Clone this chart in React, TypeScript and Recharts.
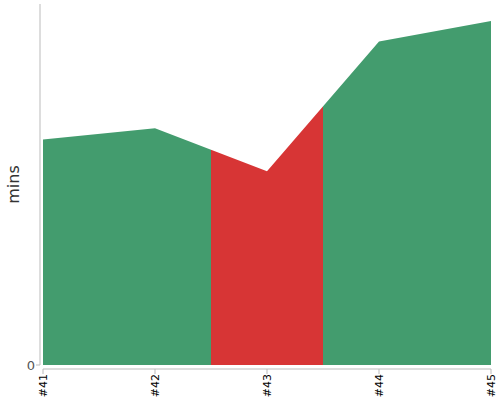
import { AreaChart, Area, XAxis, YAxis } from "recharts";

const builds = ["#41", "#42", "#43", "#44", "#45"];
const durations = [62.5, 65.6, 53.7, 89.6, 95.3];
const yTicks = [0];

const data = builds.map((name, i) => ({ name, mins: durations[i] }));

const GREEN = "#439c6e";
const RED = "#d73535";

const BuildTick = ({ x, y, payload }: any) => (
    <text
        x={x}
        y={y + 2}
        transform={`rotate(-90, ${x}, ${y + 2})`}
        textAnchor="end"
        dominantBaseline="central"
        fontSize={11}
        fill="#000"
        fontFamily="DejaVu Sans, sans-serif"
    >
        {payload.value}
    </text>
);

export default function App() {
    return (
        <div style={{ position: "absolute", left: 0, top: 0, width: 500, height: 400, background: "#fff" }}>
            <AreaChart width={500} height={400} data={data} margin={{ top: 4, right: 9, left: 0, bottom: 0 }}>
                <defs>
                    <linearGradient id="buildFill" x1="0" y1="0" x2="1" y2="0">
                        <stop offset="0" stopColor={GREEN} />
                        <stop offset="0.375" stopColor={GREEN} />
                        <stop offset="0.375" stopColor={RED} />
                        <stop offset="0.625" stopColor={RED} />
                        <stop offset="0.625" stopColor={GREEN} />
                        <stop offset="1" stopColor={GREEN} />
                    </linearGradient>
                </defs>
                <XAxis
                    dataKey="name"
                    height={35}
                    interval={0}
                    axisLine={{ stroke: "#bbb", transform: "translate(0,4)" }}
                    tickLine={{ stroke: "#bbb", transform: "translate(0,4)" }}
                    tickSize={5}
                    tick={<BuildTick />}
                />
                <YAxis
                    width={43}
                    domain={[0, 100]}
                    ticks={yTicks}
                    axisLine={{ stroke: "#bbb", transform: "translate(-3,0)" }}
                    tickLine={{ stroke: "#bbb", transform: "translate(-3,0)" }}
                    tickSize={4}
                    tick={{ fill: "#555", fontSize: 13, fontFamily: "DejaVu Sans, sans-serif", dx: -2 }}
                    label={{
                        value: "mins",
                        angle: -90,
                        position: "insideLeft",
                        offset: 13,
                        fill: "#333",
                        fontSize: 16,
                        fontFamily: "DejaVu Sans, sans-serif",
                        style: { textAnchor: "middle" },
                    }}
                />
                <Area
                    type="linear"
                    dataKey="mins"
                    stroke="none"
                    fill="url(#buildFill)"
                    fillOpacity={1}
                    isAnimationActive={false}
                    dot={false}
                    activeDot={false}
                />
            </AreaChart>
        </div>
    );
}
